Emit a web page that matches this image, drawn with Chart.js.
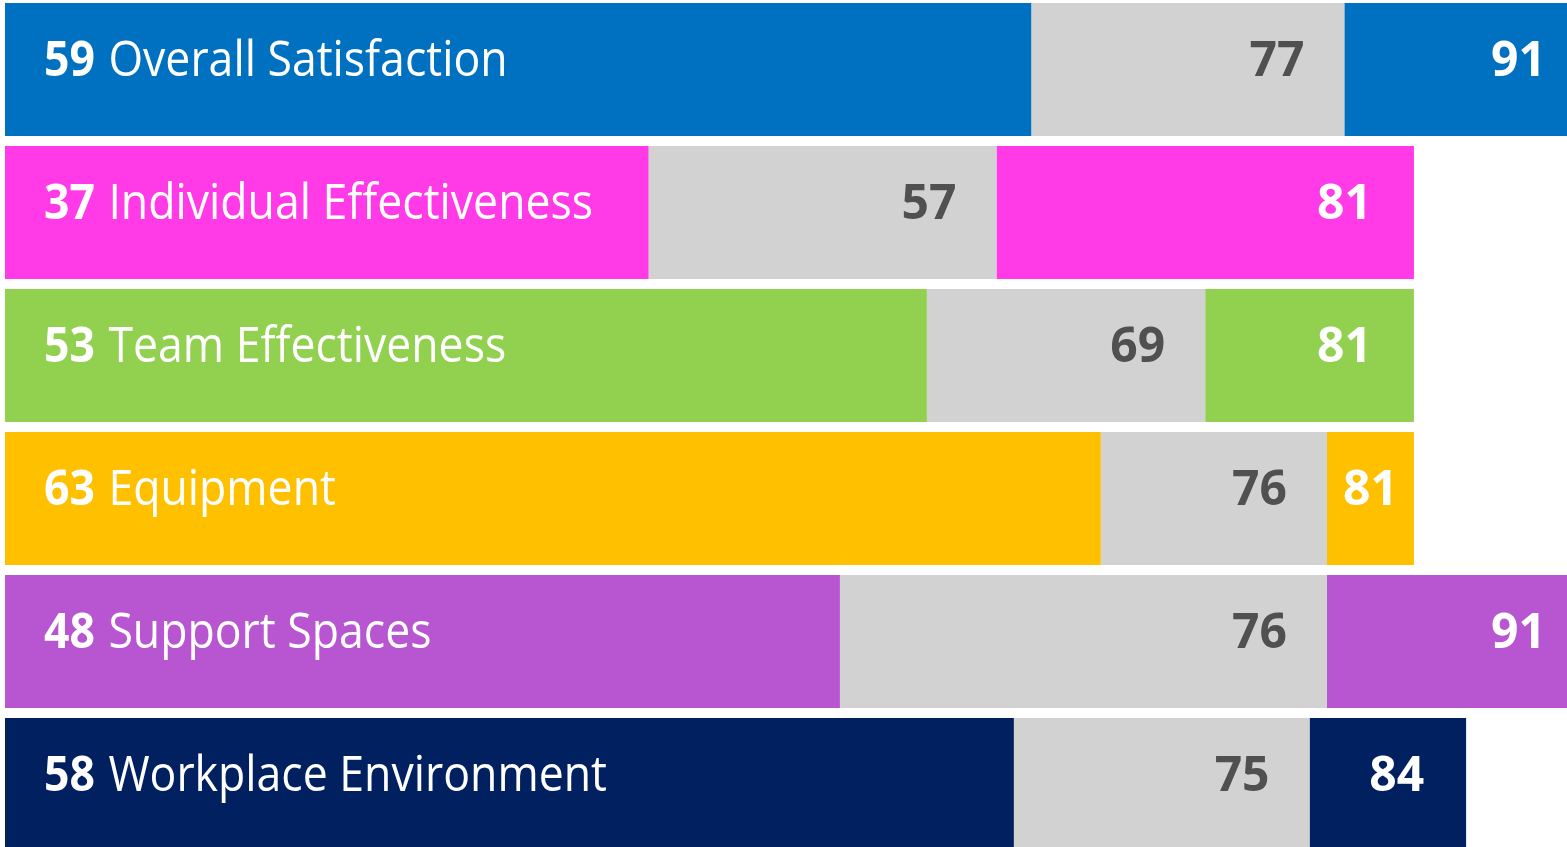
<html lang="en"><head>
<meta charset="UTF-8">
<title>Survey Scores</title>
<script src="https://cdn.jsdelivr.net/npm/chart.js"></script>
<style>
  html, body { margin: 0; background: #ffffff; overflow: hidden; }
  .wrap { position: absolute; left: 0; top: -2px; width: 1567px; height: 858px; }
</style>
</head>
<body>
<div class="wrap"><canvas id="scores"></canvas></div>
<script>
  const categories = ['Overall Satisfaction', 'Individual Effectiveness', 'Team Effectiveness',
                      'Equipment', 'Support Spaces', 'Workplace Environment'];
  const scores = [59, 37, 53, 63, 48, 58];
  const benchmark = [77, 57, 69, 76, 76, 75];
  const topScore = [91, 81, 81, 81, 91, 84];
  const rowColors = ['#0070c0', '#ff3ae6', '#92d050', '#ffc000', '#b856d2', '#00205f'];
  const grey = '#d2d2d2';

  const labelFont = "'Open Sans', 'Noto Sans', sans-serif";
  const squeeze = 0.91; // the original face is a bit narrower than Open Sans

  // write the numbers and names inside the bars
  const barLabels = {
    id: 'barLabels',
    afterDatasetsDraw(chart) {
      const ctx = chart.ctx;
      const x = chart.scales.x, y = chart.scales.y;
      ctx.save();
      ctx.textBaseline = 'alphabetic';
      categories.forEach((name, i) => {
        const base = y.getPixelForValue(i) + 6;
        const left = x.getPixelForValue(0) + 39;

        ctx.save();
        ctx.translate(left, base);
        ctx.scale(squeeze, 1);
        ctx.textAlign = 'left';
        ctx.fillStyle = '#ffffff';
        ctx.font = 'bold 49px ' + labelFont;
        const num = String(scores[i]);
        ctx.fillText(num, 0, 0);
        const w = ctx.measureText(num + ' ').width;
        ctx.font = '49px ' + labelFont;
        ctx.fillText(name, w + 2, 0);
        ctx.restore();

        ctx.font = 'bold 48px ' + labelFont;
        ctx.textAlign = 'right';
        ctx.fillStyle = '#505050';
        ctx.fillText(String(benchmark[i]), x.getPixelForValue(benchmark[i]) - 40, base);

        // top score: right aligned, or centred when the piece is too short
        const s = String(topScore[i]);
        const x0 = x.getPixelForValue(benchmark[i]), x1 = x.getPixelForValue(topScore[i]);
        ctx.fillStyle = '#ffffff';
        if (x1 - x0 < ctx.measureText(s).width + 84) {
          ctx.textAlign = 'center';
          ctx.fillText(s, (x0 + x1) / 2, base);
        } else {
          ctx.fillText(s, x1 - 42, base);
        }
      });
      ctx.restore();
    }
  };

  new Chart(document.getElementById('scores'), {
    type: 'bar',
    data: {
      labels: categories,
      datasets: [
        { data: scores.map(v => [0, v]), backgroundColor: rowColors },
        { data: scores.map((v, i) => [v, benchmark[i]]), backgroundColor: grey },
        { data: benchmark.map((v, i) => [v, topScore[i]]), backgroundColor: rowColors }
      ]
    },
    options: {
      indexAxis: 'y',
      responsive: true,
      maintainAspectRatio: false,
      animation: false,
      layout: { padding: { left: 5, right: 0, top: 0, bottom: 0 } },
      datasets: { bar: { grouped: false, categoryPercentage: 1, barPercentage: 0.93, borderSkipped: false } },
      plugins: { legend: { display: false }, tooltip: { enabled: false } },
      scales: {
        x: { display: false, min: 0, max: 89.8 },
        y: { display: false }
      }
    },
    plugins: [barLabels]
  });
</script>
</body></html>
